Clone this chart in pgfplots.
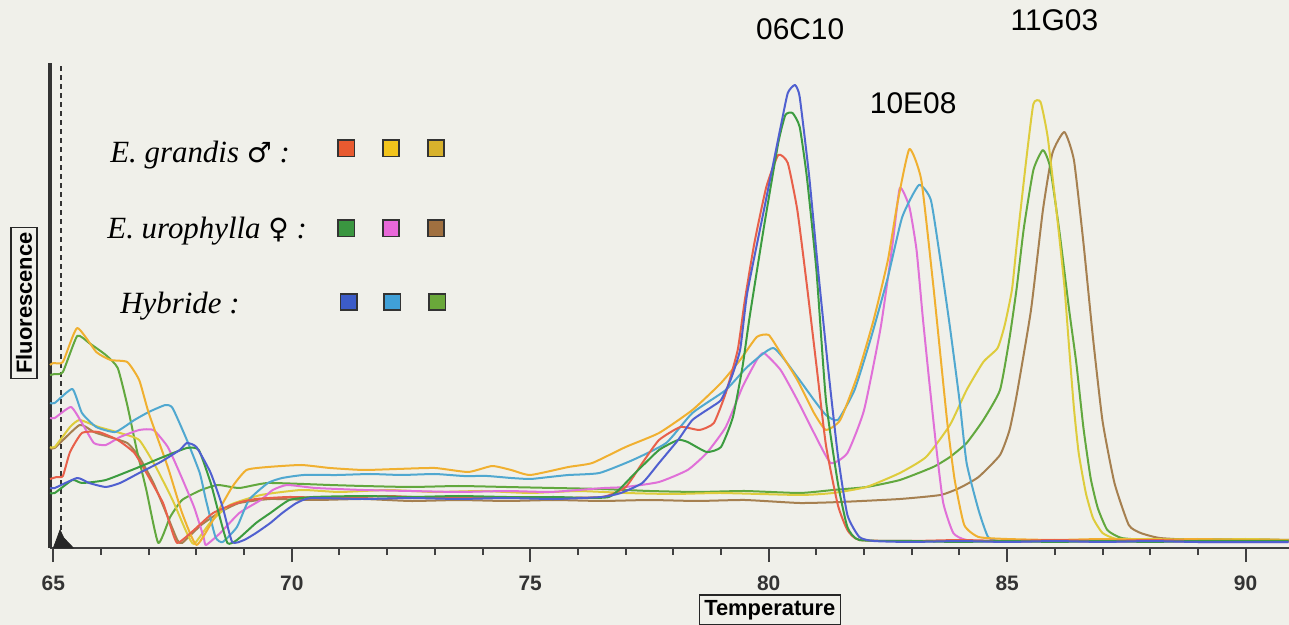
\documentclass[border=0pt]{standalone}
\usepackage{fontspec}
\setmainfont{Liberation Sans}
\newfontfamily\tnr{Liberation Serif}
\newfontfamily\djv{DejaVu Sans}
\usepackage{pgfplots}
\pgfplotsset{compat=1.18}

\definecolor{bgc}{RGB}{240,240,234}
\definecolor{cRed}{HTML}{E8604A}
\definecolor{cOrg}{HTML}{F0B030}
\definecolor{cLem}{HTML}{DECC3C}
\definecolor{cGrn}{HTML}{3C9C40}
\definecolor{cPnk}{HTML}{E070D8}
\definecolor{cBrn}{HTML}{A68050}
\definecolor{cBlu}{HTML}{5060D0}
\definecolor{cCya}{HTML}{50A8D0}
\definecolor{cOli}{HTML}{62A83E}
% legend squares
\definecolor{sqA}{HTML}{E85A30}
\definecolor{sqB}{HTML}{F2C41C}
\definecolor{sqC}{HTML}{D8B22C}
\definecolor{sqD}{HTML}{3A9640}
\definecolor{sqE}{HTML}{E868D8}
\definecolor{sqF}{HTML}{A07040}
\definecolor{sqG}{HTML}{3C5CC8}
\definecolor{sqH}{HTML}{40A0D8}
\definecolor{sqI}{HTML}{6AA83A}
\tikzset{keysq/.style={fill=#1, draw=black!80, line width=0.8bp, minimum size=8.2bp, inner sep=0pt},
         keytx/.style={anchor=base west, inner sep=0pt, font=\tnr\fontsize{15.5}{15.5}\selectfont\itshape}}
\newcommand{\sym}[1]{{\djv\upshape\fontsize{14}{14}\selectfont #1}}

\begin{document}
\begin{tikzpicture}
\fill[bgc] (-25bp,-38.5bp) rectangle (619.5bp,274bp);
\begin{axis}[
  scale only axis,
  width=619.5bp, height=242.5bp,
  xmin=64.93, xmax=90.91,
  ymin=0, ymax=485,
  axis lines*=left,
  axis line style={line width=1.4bp, color=black!75},
  y axis line style={line width=2bp, color=black!80},
  ytick=\empty,
  xtick={65,70,...,90},
  minor tick num=4,
  tick align=outside,
  major tick length=7bp,
  minor tick length=3.5bp,
  every tick/.style={line width=1bp, color=black!75},
  /pgf/number format/assume math mode=true,
  xticklabel style={font=\fontsize{10.5}{10.5}\selectfont\bfseries, color=black!80, yshift=-3.5bp},
  clip=false,
  every axis plot/.append style={line width=1bp, line join=round, smooth, tension=0.3},
]
% dashed marker and black start peak
\addplot[black!80, line width=0.9bp, dash pattern=on 2.5bp off 2bp, sharp plot] coordinates {(65.16,0)(65.16,485)};
\addplot[fill=black!85, draw=black!85, line width=0.4bp, sharp plot] coordinates {(65.0,0)(65.08,10)(65.14,18)(65.22,10)(65.42,0)} -- cycle;

% 11G03 E. urophylla (brown)
\addplot[cBrn] coordinates {
(64.93,100)(65.03,100)(65.55,123)(65.85,116)(66.1,112)(66.55,105)(66.8,91)(67.1,65)(67.4,31)(67.6,8)(67.7,5)(68.1,23)(68.5,36)(68.9,45)(69.55,49)(70.5,48)(71.5,49)(72.5,47)(73.5,48)(74.5,47)(75.5,48)(76.5,47)(77.5,48)(78.5,47)(79.5,48)(80.65,45)(81.5,46)(82.75,49)(83.6,53)(84.0,60)(84.4,71)(84.85,93)(85.05,118)(85.2,153)(85.5,238)(85.75,338)(85.95,395)(86.2,416)(86.4,388)(86.6,305)(86.8,210)(87.0,127)(87.25,65)(87.55,23)(87.8,15)(88.2,10)(89,8)(90,9)(90.9,8)};
% 11G03 hybride (olive green)
\addplot[cOli] coordinates {
(64.93,173)(65.03,174)(65.2,176)(65.5,212)(65.75,205)(66.1,193)(66.35,180)(66.55,143)(66.75,98)(66.95,58)(67.2,5)(67.45,31)(67.7,48)(68.1,58)(68.45,63)(68.9,60)(69.5,65)(70.8,63)(71.5,62)(72.5,61)(73.5,62)(74.5,61)(75.5,60)(76.5,59)(77.5,57)(78.5,56)(79.5,57)(80.65,55)(81.35,58)(82.05,61)(82.75,68)(83.45,81)(83.8,91)(84.15,105)(84.5,128)(84.85,158)(85.05,210)(85.2,260)(85.35,320)(85.55,378)(85.75,398)(85.9,381)(86.1,315)(86.3,238)(86.45,185)(86.6,120)(86.75,70)(86.9,40)(87.1,18)(87.4,10)(88,8)(89,9)(90,8)(90.9,8)};
% 11G03 E. grandis (lemon yellow)
\addplot[cLem] coordinates {
(64.93,101)(65.03,101)(65.35,121)(65.55,128)(65.95,121)(66.4,115)(66.8,108)(67.15,81)(67.5,48)(67.8,15)(67.95,4)(68.3,26)(68.7,43)(69.35,53)(70.2,58)(71,56)(72,58)(73,56)(74,57)(75,55)(76,57)(77,55)(78,54)(79,55)(80.65,53)(81.35,55)(82.05,61)(82.75,75)(83.3,91)(83.8,123)(84.15,158)(84.5,186)(84.8,200)(84.95,223)(85.1,258)(85.2,303)(85.4,388)(85.55,444)(85.7,446)(85.85,411)(86.05,330)(86.2,262)(86.3,200)(86.4,140)(86.5,95)(86.65,55)(86.8,30)(87.0,15)(87.3,9)(88,9)(89,8)(90,9)(90.9,8)};
% 10E08 E. urophylla (pink)
\addplot[cPnk] coordinates {
(64.93,130)(65.03,130)(65.37,141)(65.6,125)(65.85,105)(66.1,103)(66.4,111)(66.8,118)(67.1,118)(67.4,101)(67.65,75)(67.95,41)(68.15,11)(68.2,3)(68.5,15)(68.9,35)(69.35,48)(69.6,58)(69.9,63)(70.5,60)(71.5,58)(72.5,57)(73.5,56)(74.5,57)(75.4,56)(76.0,58)(76.55,60)(77.0,61)(77.7,66)(78.3,78)(78.7,95)(79.1,121)(79.45,161)(79.75,188)(79.9,195)(80.25,178)(80.6,148)(80.95,115)(81.3,85)(81.65,95)(82.0,138)(82.35,221)(82.6,305)(82.75,360)(82.95,341)(83.1,298)(83.23,231)(83.37,165)(83.52,98)(83.66,45)(83.87,15)(84.15,8)(85,6)(86,7)(87,6)(88,7)(89,6)(90.9,6)};
% 10E08 hybride (sky blue)
\addplot[cCya] coordinates {
(64.93,145)(65.03,145)(65.4,159)(65.6,135)(65.9,121)(66.3,116)(66.7,128)(67.0,136)(67.35,143)(67.5,140)(67.8,108)(68.07,75)(68.2,48)(68.4,11)(68.55,6)(68.85,21)(69.1,48)(69.5,65)(69.8,70)(70.25,73)(70.95,73)(71.65,74)(72.3,73)(73.0,74)(73.6,72)(74.1,72)(74.6,70)(75.0,69)(75.4,71)(75.8,73)(76.45,75)(77.15,88)(77.85,105)(78.4,135)(79.1,158)(79.55,181)(80.1,200)(80.6,171)(80.95,148)(81.2,133)(81.45,128)(81.8,158)(82.15,211)(82.5,271)(82.8,331)(83.15,363)(83.4,348)(83.6,288)(83.8,221)(84.0,148)(84.15,85)(84.4,38)(84.6,11)(84.85,7)(85.5,8)(86.5,7)(87.5,8)(88.5,7)(89.5,8)(90.9,7)};
% 10E08 E. grandis (orange yellow)
\addplot[cOrg] coordinates {
(64.93,183)(65.0,185)(65.2,186)(65.5,220)(65.9,196)(66.2,188)(66.55,186)(66.8,168)(67.0,135)(67.4,81)(67.7,35)(68.0,3)(68.35,28)(68.75,61)(69.05,78)(69.5,81)(70.2,83)(70.8,80)(71.5,78)(72.2,79)(73.0,80)(73.7,76)(74.2,82)(74.6,78)(75.0,73)(75.8,81)(76.3,85)(77.0,101)(77.7,115)(78.4,138)(79.0,165)(79.4,188)(79.75,211)(80.0,213)(80.25,195)(80.6,168)(80.95,135)(81.2,118)(81.5,128)(81.85,171)(82.2,228)(82.5,288)(82.7,345)(82.95,399)(83.2,368)(83.45,263)(83.6,193)(83.75,123)(83.9,68)(84.1,23)(84.4,11)(85,9)(86,8)(87,9)(88,8)(89,9)(90,8)(90.9,8)};
% 06C10 E. grandis (red)
\addplot[cRed] coordinates {
(64.93,69)(65.07,71)(65.2,72)(65.35,96)(65.6,115)(65.95,116)(66.35,108)(66.7,95)(67.0,71)(67.3,45)(67.45,23)(67.6,5)(67.95,18)(68.35,35)(68.85,45)(69.25,49)(69.95,51)(71,50)(72,52)(73,50)(74,51)(75,50)(76.5,51)(77.0,61)(77.35,85)(77.7,108)(78.15,121)(78.55,118)(78.85,125)(79.1,155)(79.35,198)(79.5,248)(79.7,305)(79.95,361)(80.2,393)(80.4,385)(80.6,338)(80.8,263)(81.0,183)(81.2,103)(81.45,43)(81.65,18)(81.9,8)(83,7)(84,8)(85,7)(86,8)(87,7)(88,8)(89,7)(90.9,7)};
% 06C10 E. urophylla (green)
\addplot[cGrn] coordinates {
(64.93,55)(65.03,55)(65.4,68)(65.6,65)(66.1,68)(66.8,81)(67.25,90)(67.8,100)(68.05,98)(68.3,65)(68.45,38)(68.65,5)(68.85,8)(69.25,25)(69.55,35)(69.95,48)(70.45,51)(71.5,52)(72.5,51)(73.5,52)(74.5,51)(75.5,51)(76.65,51)(77.2,75)(77.7,98)(78.1,108)(78.3,106)(78.7,96)(79.0,101)(79.25,131)(79.45,181)(79.6,231)(79.9,321)(80.2,405)(80.35,433)(80.5,435)(80.65,421)(80.8,371)(81.0,278)(81.2,148)(81.45,65)(81.65,21)(81.9,8)(83,7)(84,6)(85,7)(86,6)(87,7)(88,6)(89,7)(90.9,7)};
% 06C10 hybride (blue)
\addplot[cBlu] coordinates {
(64.93,60)(65.03,60)(65.5,70)(65.75,65)(66.1,61)(66.4,65)(66.8,75)(67.25,86)(67.65,98)(67.8,105)(68.0,101)(68.3,75)(68.55,41)(68.75,6)(69.0,8)(69.25,15)(69.55,25)(69.8,35)(70.1,45)(70.4,50)(71.5,49)(72.5,50)(73.5,49)(74.5,50)(75.5,49)(76.5,51)(76.9,55)(77.35,65)(77.7,85)(78.1,108)(78.4,128)(78.8,141)(79.0,148)(79.2,168)(79.4,198)(79.55,255)(79.9,338)(80.25,421)(80.4,455)(80.55,463)(80.65,451)(80.85,371)(81.05,271)(81.25,178)(81.45,93)(81.65,33)(81.9,11)(82.2,7)(83,6)(84,7)(85,6)(86,7)(87,6)(88,7)(89,6)(90.9,6)};

% peak names
\node[font=\fontsize{15}{15}\selectfont] at (axis cs:80.66,519) {06C10};
\node[font=\fontsize{15}{15}\selectfont] at (axis cs:83.03,445) {10E08};
\node[font=\fontsize{15}{15}\selectfont] at (axis cs:85.99,528) {11G03};

% key
\node[keytx] at (axis description cs:0.0484,0.794) {E. grandis \sym{♂} :};
\node[keytx] at (axis description cs:0.046,0.639) {E. urophylla \sym{♀} :};
\node[keytx] at (axis description cs:0.0565,0.4845) {Hybride :};
\node[keysq=sqA] at (axis description cs:0.239,0.8237) {};
\node[keysq=sqB] at (axis description cs:0.2753,0.8237) {};
\node[keysq=sqC] at (axis description cs:0.3115,0.8237) {};
\node[keysq=sqD] at (axis description cs:0.239,0.6588) {};
\node[keysq=sqE] at (axis description cs:0.2753,0.6588) {};
\node[keysq=sqF] at (axis description cs:0.3115,0.6588) {};
\node[keysq=sqG] at (axis description cs:0.241,0.5072) {};
\node[keysq=sqH] at (axis description cs:0.2763,0.5072) {};
\node[keysq=sqI] at (axis description cs:0.3125,0.5072) {};

% axis titles
\node[draw=black!85, line width=0.7bp, inner sep=2.5bp, font=\fontsize{11}{11}\selectfont\bfseries] at ([yshift=-31bp]axis description cs:0.581,0) {Temperature};
\node[draw=black!85, line width=0.7bp, inner sep=2.5bp, rotate=90, font=\fontsize{11}{11}\selectfont\bfseries] at ([xshift=-13bp]axis description cs:0,0.505) {Fluorescence};
\end{axis}
\pgfresetboundingbox
\path[use as bounding box] (-25bp,-38.5bp) rectangle (619.5bp,274bp);
\end{tikzpicture}
\end{document}
